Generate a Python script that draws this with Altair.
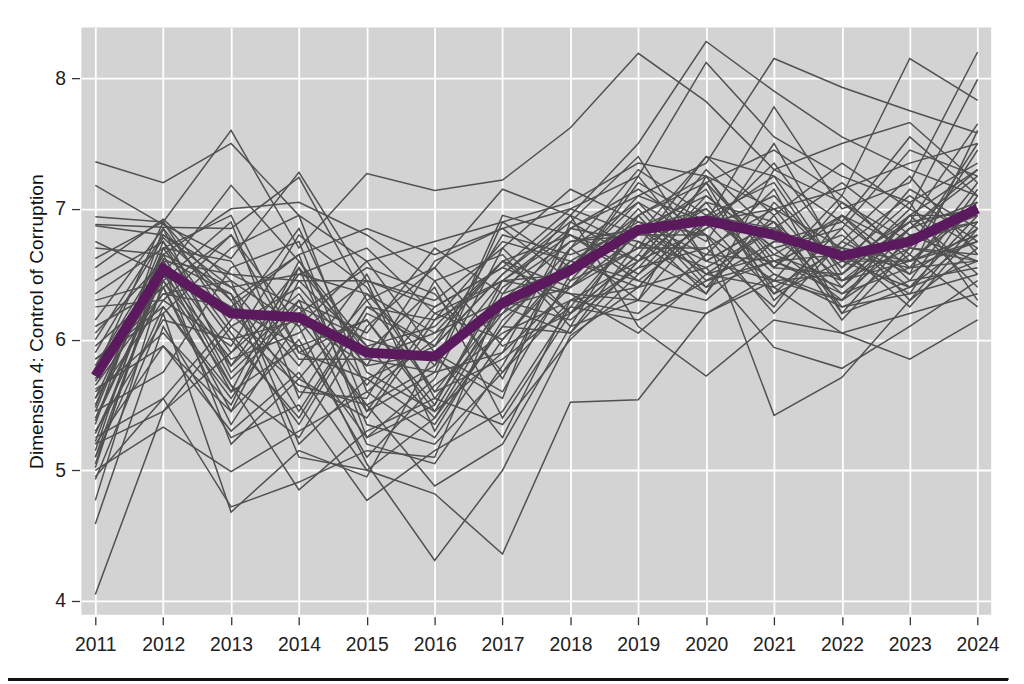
import altair as alt
import pandas as pd

YEARS = [2011, 2012, 2013, 2014, 2015, 2016, 2017, 2018, 2019, 2020, 2021, 2022, 2023, 2024]
Y_TICKS = [4, 5, 6, 7, 8]
Y_TITLE = "Dimension 4: Control of Corruption"

MEAN = [5.72, 6.54, 6.20, 6.17, 5.90, 5.87, 6.28, 6.53, 6.84, 6.91, 6.80, 6.64, 6.75, 7.00]

s01 = [7.36, 7.20, 7.50, 6.95, 6.60, 6.75, 6.90, 7.05, 7.35, 7.25, 7.00, 7.15, 7.35, 7.50]
s02 = [7.18, 6.88, 6.62, 7.28, 6.45, 6.25, 6.55, 7.00, 7.25, 8.12, 7.55, 7.25, 7.05, 7.35]
s03 = [6.94, 6.90, 7.60, 6.70, 7.27, 7.14, 7.22, 7.62, 8.19, 7.82, 7.30, 7.50, 7.66, 7.20]
s04 = [6.88, 6.86, 6.85, 7.24, 6.30, 6.55, 7.15, 6.95, 7.50, 8.28, 7.90, 7.55, 7.30, 7.10]
s05 = [6.87, 6.80, 6.40, 6.50, 6.70, 6.20, 6.45, 6.85, 7.10, 7.35, 8.15, 7.93, 7.75, 7.58]
s06 = [6.75, 6.50, 7.18, 6.60, 5.85, 6.05, 6.60, 6.40, 6.95, 7.20, 7.45, 7.10, 8.15, 7.83]
s07 = [6.55, 6.92, 6.45, 6.10, 6.60, 5.90, 5.60, 6.50, 7.20, 6.90, 7.78, 7.00, 7.20, 8.20]
s08 = [6.45, 6.75, 5.80, 6.30, 6.05, 6.70, 6.35, 6.95, 6.70, 7.40, 6.95, 7.35, 7.00, 7.99]
s09 = [6.35, 6.70, 6.95, 5.90, 5.70, 5.35, 6.10, 6.70, 7.05, 6.75, 7.50, 6.60, 6.90, 7.65]
s10 = [6.25, 6.30, 5.95, 6.80, 6.40, 5.60, 5.85, 6.25, 6.85, 7.10, 6.70, 6.85, 7.45, 7.25]
s11 = [6.15, 6.85, 6.20, 5.70, 5.40, 6.15, 6.75, 6.60, 6.40, 6.95, 7.20, 6.45, 6.60, 7.00]
s12 = [6.05, 6.60, 6.50, 6.45, 5.95, 5.40, 6.25, 6.05, 6.75, 6.55, 6.85, 7.20, 6.80, 6.90]
s13 = [5.95, 6.40, 5.35, 6.15, 5.50, 5.80, 6.95, 6.80, 6.50, 7.05, 6.40, 6.70, 7.10, 6.75]
s14 = [5.90, 6.78, 6.30, 5.45, 6.25, 5.95, 6.50, 6.90, 7.40, 6.60, 6.90, 6.25, 6.45, 7.15]
s15 = [5.85, 6.20, 6.70, 6.95, 5.60, 5.25, 6.00, 6.55, 6.95, 7.25, 6.55, 6.95, 6.70, 6.60]
s16 = [5.80, 6.65, 5.70, 6.20, 6.55, 6.35, 5.75, 6.30, 6.60, 6.85, 7.10, 6.55, 6.95, 7.30]
s17 = [5.75, 6.90, 6.10, 6.40, 5.80, 6.60, 6.85, 6.45, 7.00, 6.45, 6.75, 6.90, 6.50, 6.85]
s18 = [5.70, 6.55, 5.60, 5.95, 6.15, 5.50, 6.40, 6.75, 6.80, 7.15, 6.30, 6.75, 7.25, 6.65]
s19 = [5.68, 6.45, 6.90, 5.55, 6.35, 6.05, 6.30, 6.15, 6.55, 6.70, 7.00, 6.40, 6.85, 7.05]
s20 = [5.65, 6.35, 6.25, 6.65, 5.25, 5.70, 6.70, 7.15, 6.90, 6.65, 6.60, 6.80, 6.40, 6.80]
s21 = [5.60, 6.05, 5.50, 6.55, 5.90, 6.40, 5.40, 6.20, 6.65, 7.30, 6.80, 6.35, 6.75, 6.95]
s22 = [5.55, 6.65, 6.40, 5.80, 6.50, 5.55, 6.20, 6.85, 7.15, 6.80, 6.45, 7.05, 6.65, 7.45]
s23 = [5.50, 6.60, 5.90, 6.35, 5.65, 6.25, 6.55, 6.35, 6.30, 6.90, 7.25, 6.50, 7.00, 6.70]
s24 = [5.48, 6.75, 6.05, 5.35, 6.20, 5.95, 6.80, 6.65, 6.85, 6.50, 6.65, 6.95, 6.55, 7.20]
s25 = [5.45, 5.75, 6.55, 6.75, 5.45, 5.75, 5.90, 6.40, 6.70, 7.00, 6.50, 6.30, 6.95, 6.50]
s26 = [5.40, 6.50, 5.85, 6.05, 6.45, 5.30, 6.15, 6.60, 6.45, 6.85, 7.35, 6.65, 6.35, 7.10]
s27 = [5.38, 6.48, 6.35, 5.60, 5.55, 6.45, 6.65, 6.10, 6.95, 6.40, 6.95, 6.20, 6.80, 6.60]
s28 = [5.35, 6.85, 5.75, 6.25, 6.00, 5.85, 5.55, 6.90, 6.60, 7.20, 6.35, 6.85, 6.30, 6.90]
s29 = [5.30, 6.15, 6.00, 5.40, 6.25, 6.15, 6.45, 6.50, 7.25, 6.60, 6.90, 6.45, 6.70, 7.50]
s30 = [5.28, 6.40, 5.45, 6.00, 5.10, 5.65, 6.05, 6.30, 6.40, 6.95, 6.55, 7.10, 6.60, 6.75]
s31 = [5.25, 5.55, 6.15, 6.85, 5.75, 5.45, 6.30, 6.75, 6.85, 6.35, 7.05, 6.55, 7.15, 6.85]
s32 = [5.22, 6.60, 5.65, 5.25, 6.10, 6.55, 5.95, 6.20, 6.55, 7.10, 6.70, 6.30, 6.85, 7.25]
s33 = [5.20, 5.45, 5.90, 6.55, 5.35, 5.20, 5.75, 6.45, 6.70, 6.70, 6.25, 6.95, 6.45, 6.55]
s34 = [5.15, 6.70, 6.60, 5.85, 5.85, 5.75, 6.90, 6.55, 7.05, 6.50, 6.85, 6.60, 6.60, 7.05]
s35 = [5.10, 6.25, 5.55, 6.30, 5.20, 5.05, 5.80, 6.70, 6.30, 7.25, 6.60, 6.40, 6.95, 6.95]
s36 = [5.05, 6.55, 5.20, 5.70, 6.30, 5.60, 6.25, 6.40, 6.80, 6.80, 6.20, 6.75, 6.50, 7.60]
s37 = [5.02, 6.62, 6.35, 5.10, 5.00, 5.40, 6.10, 6.05, 6.60, 7.05, 6.90, 6.15, 6.70, 6.65]
s38 = [5.00, 5.33, 4.99, 5.30, 5.60, 6.00, 6.60, 6.80, 6.45, 6.30, 6.75, 6.70, 6.25, 6.85]
s39 = [4.95, 5.55, 4.72, 4.91, 5.15, 5.10, 6.35, 6.55, 6.85, 6.60, 6.45, 6.50, 6.90, 6.40]
s40 = [4.93, 6.20, 4.68, 5.15, 4.95, 5.90, 5.25, 6.30, 6.20, 6.65, 7.15, 6.20, 6.40, 6.60]
s41 = [4.77, 6.45, 5.65, 4.85, 5.30, 5.55, 5.35, 6.00, 6.50, 6.90, 6.35, 6.60, 7.05, 6.30]
s42 = [4.59, 6.10, 5.25, 5.50, 4.77, 5.15, 5.45, 6.25, 6.15, 6.45, 6.60, 6.35, 6.55, 6.75]
s43 = [4.05, 5.45, 6.10, 5.65, 5.50, 4.88, 5.20, 6.10, 6.30, 6.20, 6.50, 6.25, 6.35, 6.50]
s44 = [5.55, 6.30, 6.80, 6.10, 5.05, 4.31, 5.00, 6.03, 6.40, 6.55, 5.94, 5.78, 6.10, 6.45]
s45 = [5.62, 5.95, 5.30, 5.75, 5.00, 4.82, 4.36, 5.52, 5.54, 6.20, 6.45, 6.30, 6.65, 6.25]
s46 = [5.78, 6.35, 6.45, 5.20, 5.70, 5.95, 6.50, 6.95, 6.10, 5.72, 6.15, 6.05, 6.20, 6.35]
s47 = [6.00, 6.80, 6.50, 6.25, 5.45, 6.20, 6.00, 6.60, 6.90, 6.80, 5.42, 5.71, 6.30, 6.70]
s48 = [6.30, 6.45, 5.80, 6.50, 6.35, 5.80, 6.45, 6.35, 6.05, 6.50, 6.40, 6.05, 5.85, 6.15]
s49 = [6.62, 6.90, 6.30, 6.65, 6.85, 6.65, 6.85, 7.00, 6.80, 7.40, 7.25, 6.90, 7.55, 7.10]
s50 = [6.70, 6.65, 7.00, 7.05, 6.80, 6.45, 5.70, 6.70, 7.30, 6.95, 6.85, 6.60, 6.40, 6.95]
s51 = [5.20, 5.95, 5.45, 6.45, 6.45, 6.30, 6.70, 6.20, 6.65, 6.35, 7.30, 7.05, 6.75, 6.90]
s52 = [5.10, 6.55, 6.25, 5.95, 5.25, 5.50, 6.45, 6.80, 6.60, 7.20, 6.65, 6.45, 6.85, 7.30]
s53 = [5.45, 6.70, 6.00, 6.15, 5.80, 5.90, 6.20, 6.55, 7.10, 6.90, 7.00, 6.70, 6.60, 6.80]
s54 = [5.85, 6.25, 5.60, 6.60, 5.95, 6.10, 6.60, 6.20, 6.85, 7.00, 6.55, 6.50, 6.90, 7.00]
s55 = [6.10, 6.40, 6.80, 5.90, 6.15, 5.45, 5.90, 6.85, 6.75, 6.40, 6.60, 6.65, 6.55, 6.60]

SERIES = [s01, s02, s03, s04, s05, s06, s07, s08, s09, s10, s11, s12, s13, s14,
          s15, s16, s17, s18, s19, s20, s21, s22, s23, s24, s25, s26, s27, s28,
          s29, s30, s31, s32, s33, s34, s35, s36, s37, s38, s39, s40, s41, s42,
          s43, s44, s45, s46, s47, s48, s49, s50, s51, s52, s53, s54, s55]

rows = []
for i, s in enumerate(SERIES):
    for yr, v in zip(YEARS, s):
        rows.append({"series": f"s{i+1:02d}", "year": yr, "value": v})
df = pd.DataFrame(rows)
df_mean = pd.DataFrame({"year": YEARS, "value": MEAN})

FONT = "Liberation Sans"

x_enc = alt.X("year:Q",
              scale=alt.Scale(domain=[2010.795, 2024.2], nice=False, zero=False),
              axis=alt.Axis(values=YEARS, format="d", title=None, grid=True,
                            gridColor="white", gridWidth=1.8, gridOpacity=1, domain=False,
                            ticks=True, tickSize=8, tickColor="#333333", tickWidth=1.3,
                            offset=2, labelPadding=11, labelFontSize=19.5,
                            labelColor="#222222", labelFont=FONT, labelFlush=False))
y_enc = alt.Y("value:Q",
              scale=alt.Scale(domain=[3.894, 8.387], nice=False, zero=False),
              axis=alt.Axis(values=Y_TICKS, format="d", title=Y_TITLE, grid=True,
                            gridColor="white", gridWidth=1.8, gridOpacity=1, domain=False,
                            ticks=True, tickSize=8, tickColor="#333333", tickWidth=1.3,
                            offset=2, labelPadding=6, labelFontSize=19.5,
                            labelColor="#222222", labelFont=FONT,
                            titleFont=FONT, titleFontSize=19.3, titleFontWeight="normal",
                            titleColor="#111111", titlePadding=8))

grey = alt.Chart(df).mark_line(color="#505050", strokeWidth=1.5).encode(
    x=x_enc, y=y_enc, detail="series:N")

mean_line = alt.Chart(df_mean).mark_line(color="#5b1a5e", strokeWidth=10,
                                         strokeJoin="miter").encode(
    x="year:Q", y="value:Q")

border = alt.Chart(df_mean).mark_rule(color="#111111", strokeWidth=2).encode(
    x=alt.value(-74), x2=alt.value(934), y=alt.value(657))

chart = alt.layer(grey, mean_line, border).properties(
    width=917, height=592,
    padding={"left": 74, "top": 17, "right": 25, "bottom": 67},
    autosize=alt.AutoSizeParams(type="none"),
    background="white",
).configure_view(fill="#d3d3d3", stroke=None)

chart.save("out.html", embed_options={"renderer": "svg", "actions": False})
